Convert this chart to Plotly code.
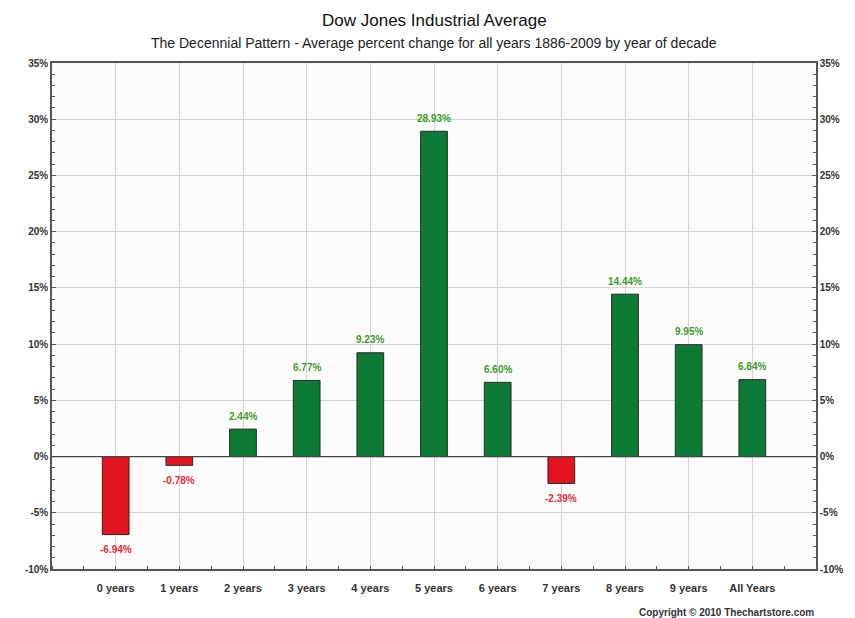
import plotly.graph_objects as go

categories = ["0 years", "1 years", "2 years", "3 years", "4 years", "5 years",
              "6 years", "7 years", "8 years", "9 years", "All Years"]
values = [-6.94, -0.78, 2.44, 6.77, 9.23, 28.93, 6.60, -2.39, 14.44, 9.95, 6.84]
y_ticks = [-10, -5, 0, 5, 10, 15, 20, 25, 30, 35]

positions = list(range(len(categories)))
bar_colors = ["#e3141d" if v < 0 else "#0b7a35" for v in values]
text_colors = ["#ee2a36" if v < 0 else "#3f9c2c" for v in values]

fig = go.Figure()
fig.add_trace(go.Bar(
    x=positions, y=values, width=0.42,
    marker=dict(color=bar_colors, line=dict(color="#2a2a2a", width=1)),
    showlegend=False, hoverinfo="skip",
))
fig.add_trace(go.Scatter(x=[positions[0]], y=[0], yaxis="y2", mode="markers",
                         marker=dict(opacity=0), showlegend=False, hoverinfo="skip"))

value_labels = [
    dict(x=p, y=v, xref="x", yref="y", text=f"{v:.2f}%", showarrow=False,
         yanchor="middle", yshift=(13 if v >= 0 else -15),
         font=dict(size=10, color=c, family="Liberation Sans", weight="bold"))
    for p, v, c in zip(positions, values, text_colors)
]

ytext = [f"{t}%" for t in y_ticks]
common_y = dict(range=[-10, 35], tickvals=y_ticks, ticktext=ytext,
                tickfont=dict(size=10, color="#333", family="Liberation Sans Narrow, Liberation Sans",
                              weight="bold"),
                ticks="inside", ticklen=4, tickcolor="#555",
                minor=dict(dtick=1, ticks="inside", ticklen=3, tickcolor="#555", showgrid=False),
                zeroline=False, fixedrange=True)

fig.update_layout(
    width=855, height=618,
    margin=dict(l=52, r=32, t=63, b=49),
    paper_bgcolor="white", plot_bgcolor="#fbfbfb",
    xaxis=dict(range=[-1, len(categories)], tickvals=positions, ticktext=categories,
               tickfont=dict(size=11, color="#333", family="Liberation Sans", weight="bold"),
               showgrid=True, gridcolor="#d4d4d4", gridwidth=1,
               showline=True, linecolor="#555", linewidth=1.5, mirror=True,
               ticks="", ticklabelstandoff=8,
               minor=dict(dtick=0.5, ticks="inside", ticklen=3, tickcolor="#555", showgrid=False),
               zeroline=False, fixedrange=True),
    yaxis=dict(**common_y, side="left", showgrid=True, gridcolor="#d4d4d4",
               showline=True, linecolor="#555", linewidth=1.5, mirror=True),
    yaxis2=dict(**common_y, side="right", overlaying="y", anchor="x",
                showgrid=False, showline=True, linecolor="#555", linewidth=1.5),
    shapes=[dict(type="line", xref="paper", x0=0, x1=1, yref="y", y0=0, y1=0,
                 line=dict(color="#444", width=1.2))],
    annotations=value_labels + [
        dict(text="Dow Jones Industrial Average", xref="paper", yref="paper",
             x=0.5, y=1, yanchor="middle", yshift=43, showarrow=False,
             font=dict(size=17, color="#111", family="Liberation Sans")),
        dict(text="The Decennial Pattern - Average percent change for all years 1886-2009 by year of decade",
             xref="paper", yref="paper", x=0.5, y=1, yanchor="middle", yshift=20, showarrow=False,
             font=dict(size=14, color="#222", family="Liberation Sans")),
        dict(text="Copyright © 2010 Thechartstore.com", xref="paper", yref="paper",
             x=1, xanchor="right", y=0, yanchor="middle", yshift=-43, showarrow=False,
             font=dict(size=10, color="#333", family="Liberation Sans", weight="bold")),
    ],
)

fig.write_html("out.html")
